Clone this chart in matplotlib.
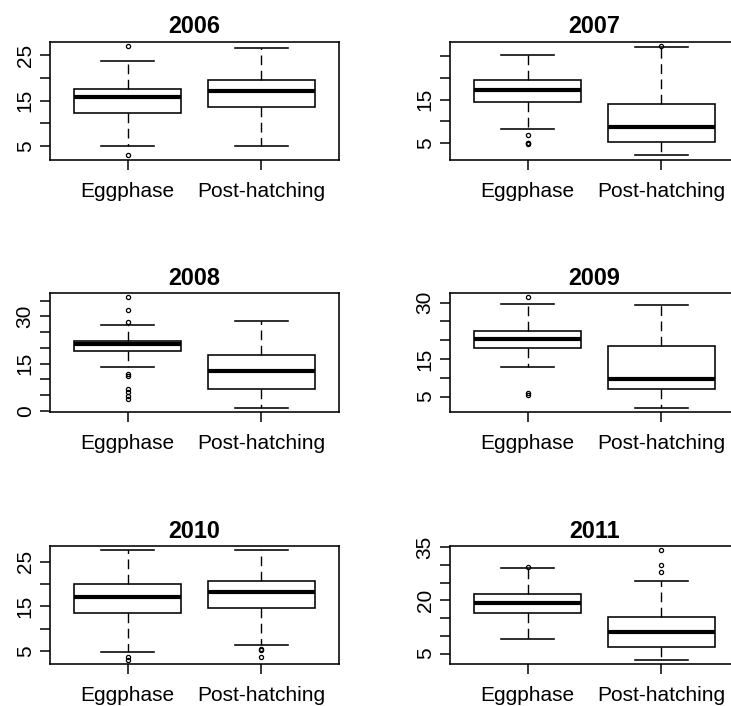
import matplotlib
matplotlib.use("Agg")
import matplotlib.pyplot as plt

plt.rcParams['font.family'] = ['Liberation Sans', 'DejaVu Sans']

groups = ["Eggphase", "Post-hatching"]
years = ["2006", "2007", "2008", "2009", "2010", "2011"]

# per year: [Eggphase, Post-hatching] -> (whislo, q1, med, q3, whishi)
stats_2006 = [(5.0, 12.3, 15.7, 17.6, 23.7), (5.0, 13.6, 17.1, 19.6, 26.6)]
fliers_2006 = [[27.0, 3.0], []]
stats_2007 = [(8.1, 14.5, 17.3, 19.5, 25.4), (2.15, 5.2, 8.6, 13.9, 27.1)]
fliers_2007 = [[6.7, 5.0, 4.9, 4.8], [27.45]]
stats_2008 = [(13.9, 19.0, 21.1, 22.3, 27.1), (1.0, 7.0, 12.6, 17.8, 28.6)]
fliers_2008 = [[36.0, 32.0, 28.2, 11.8, 11.0, 7.0, 5.9, 4.8, 3.8], []]
stats_2009 = [(13.0, 18.0, 20.4, 22.5, 29.7), (2.1, 7.1, 9.7, 18.6, 29.3)]
fliers_2009 = [[31.4, 6.1, 5.5], []]
stats_2010 = [(4.7, 13.5, 17.0, 20.1, 27.6), (6.4, 14.6, 18.3, 20.8, 27.6)]
fliers_2010 = [[3.6, 3.0], [5.4, 5.2, 3.7]]
stats_2011 = [(9.2, 16.5, 19.2, 21.7, 29.0), (3.3, 6.8, 11.1, 15.2, 25.5)]
fliers_2011 = [[29.5], [34.1, 29.9, 28.1]]

all_stats = [stats_2006, stats_2007, stats_2008, stats_2009, stats_2010, stats_2011]
all_fliers = [fliers_2006, fliers_2007, fliers_2008, fliers_2009, fliers_2010, fliers_2011]

yticks = [
    [5, 10, 15, 20, 25],
    [5, 10, 15, 20, 25],
    [0, 5, 10, 15, 20, 25, 30, 35],
    [5, 10, 15, 20, 25, 30],
    [5, 10, 15, 20, 25],
    [5, 10, 15, 20, 25, 30, 35],
]
ylabeled = [
    [5, 15, 25],
    [5, 15],
    [0, 15, 30],
    [5, 15, 30],
    [5, 15, 25],
    [5, 20, 35],
]

W, H = 731, 706
fig = plt.figure(figsize=(W / 100, H / 100), dpi=100)

col_left_px = [50, 450]
ax_w_px = 289
row_px = [(41.5, 159.5), (293, 412), (546, 664)]

for i, yr in enumerate(years):
    r, c = divmod(i, 2)
    top, bot = row_px[r]
    ax = fig.add_axes([col_left_px[c] / W, 1 - bot / H, ax_w_px / W, (bot - top) / H])
    st = []
    for g, (s, f) in enumerate(zip(all_stats[i], all_fliers[i])):
        st.append(dict(whislo=s[0], q1=s[1], med=s[2], q3=s[3], whishi=s[4],
                       fliers=f, label=groups[g]))
    ax.bxp(st, positions=[1, 2], widths=0.8, patch_artist=True,
           boxprops=dict(facecolor='white', edgecolor='black', linewidth=1.15),
           medianprops=dict(color='black', linewidth=3.0, solid_capstyle='butt'),
           whiskerprops=dict(color='black', linewidth=1.0, linestyle=(0, (7, 4))),
           capprops=dict(color='black', linewidth=1.15),
           capwidths=0.4,
           flierprops=dict(marker='o', markersize=3.0, markerfacecolor='none',
                           markeredgecolor='black', markeredgewidth=0.9))
    vals = [v for s in all_stats[i] for v in s] + [v for f in all_fliers[i] for v in f]
    lo, hi = min(vals), max(vals)
    pad = 0.04 * (hi - lo)
    ax.set_ylim(lo - pad, hi + pad)
    ax.set_xlim(0.42, 2.58)
    ax.set_yticks(yticks[i])
    ax.set_yticklabels([str(t) if t in ylabeled[i] else '' for t in yticks[i]],
                       rotation=90, va='center', fontsize=15)
    ax.set_xticks([1, 2])
    ax.set_xticklabels(groups, fontsize=15)
    ax.tick_params(axis='both', direction='out', length=7, width=1.1, color='black')
    ax.tick_params(axis='x', pad=9)
    ax.tick_params(axis='y', pad=4)
    for sp in ax.spines.values():
        sp.set_linewidth(1.15)
    ax.set_title(yr, fontsize=16.8, fontweight='bold', pad=6)

fig.savefig("out.png", dpi=100)
